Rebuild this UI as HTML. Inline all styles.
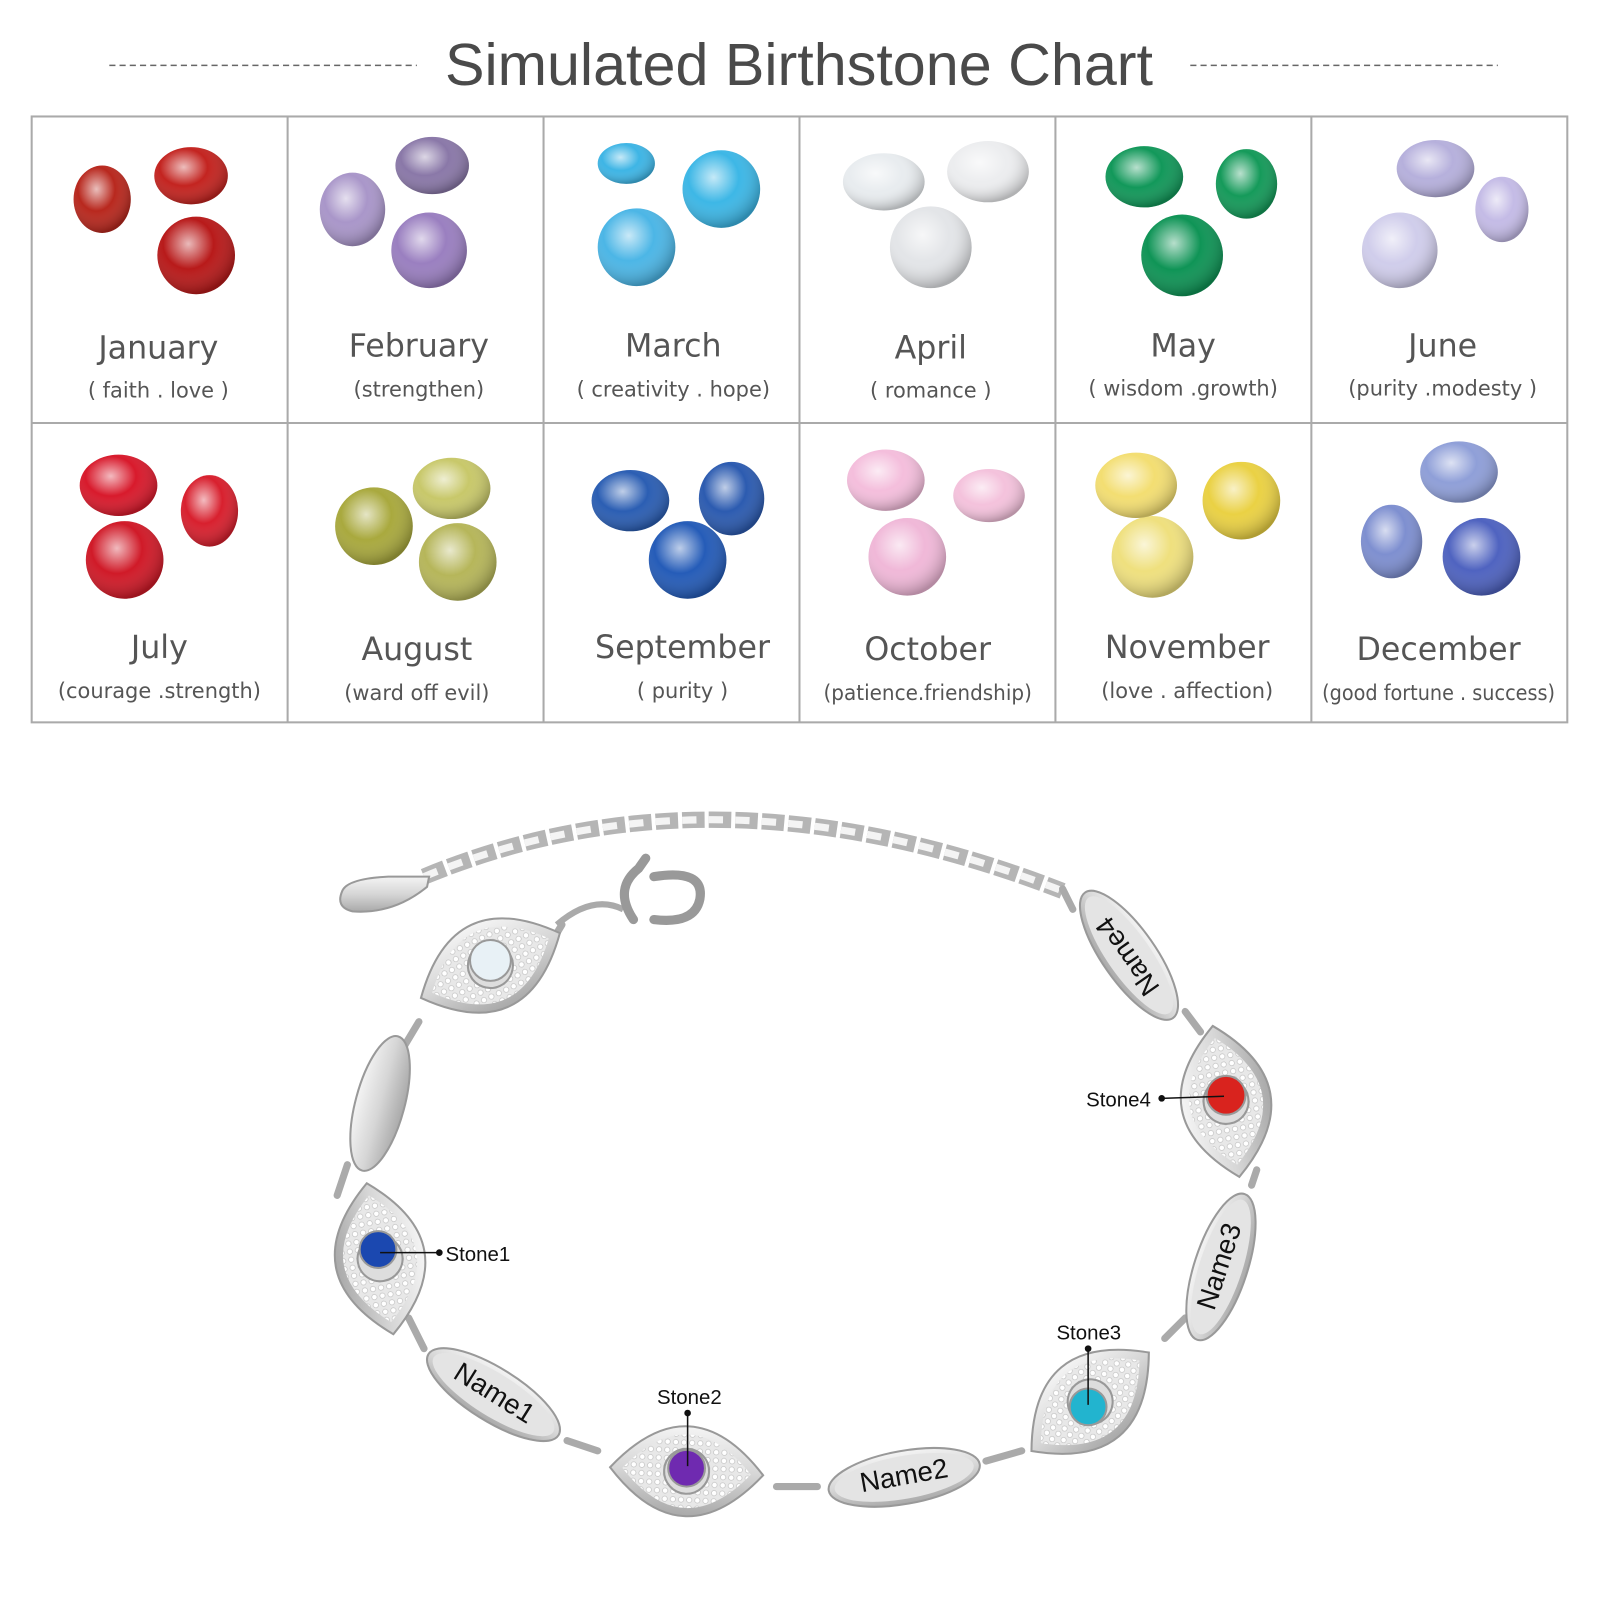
<!DOCTYPE html>
<html><head><meta charset="utf-8"><style>
html,body{margin:0;padding:0;background:#fff;}
svg{display:block;}
.m{font-family:"DejaVu Sans","Liberation Sans",sans-serif;font-size:31px;fill:#555;text-anchor:middle;}
.s{font-family:"DejaVu Sans","Liberation Sans",sans-serif;font-size:20.5px;fill:#555;text-anchor:middle;}
.n{font-family:"Liberation Sans",sans-serif;font-size:27px;fill:#111;text-anchor:middle;dominant-baseline:middle;}
.l{font-family:"Liberation Sans",sans-serif;font-size:20px;fill:#111;}
</style></head><body>
<svg width="1600" height="1600" viewBox="0 0 1566 1566" xmlns="http://www.w3.org/2000/svg">
<defs>
<radialGradient id="g" cx="40%" cy="35%" r="65%"><stop offset="0" stop-color="#fff" stop-opacity=".7"/><stop offset=".5" stop-color="#fff" stop-opacity="0"/><stop offset="1" stop-color="#000" stop-opacity=".25"/></radialGradient>
<linearGradient id="metal" x1="0" y1="0" x2="0" y2="1"><stop offset="0" stop-color="#f4f4f4"/><stop offset=".5" stop-color="#d6d6d6"/><stop offset="1" stop-color="#a9a9a9"/></linearGradient>
<pattern id="pave" width="8" height="8" patternUnits="userSpaceOnUse"><rect width="8" height="8" fill="#e8e8e8"/><circle cx="4" cy="4" r="2.6" fill="#fff" stroke="#bbb" stroke-width=".6"/></pattern>
<g id="eye"><path d="M-75,0 Q0,-88 75,0 Q0,88 -75,0Z" fill="url(#metal)" stroke="#999" stroke-width="2"/><path d="M-63,0 Q0,-72 63,0 Q0,72 -63,0Z" fill="url(#pave)"/><circle r="22" fill="#ddd" stroke="#999" stroke-width="2"/></g>
<g id="ov"><ellipse rx="75" ry="26" fill="url(#metal)" stroke="#999" stroke-width="2"/><ellipse rx="69" ry="21" fill="#e4e4e4"/></g>
</defs>
<line x1="107" y1="64" x2="408" y2="64" stroke="#666" stroke-width="1.5" stroke-dasharray="6,4"/>
<line x1="1165" y1="64" x2="1466" y2="64" stroke="#666" stroke-width="1.5" stroke-dasharray="6,4"/>
<text x="782" y="83" text-anchor="middle" font-family="Liberation Sans,sans-serif" font-size="58" fill="#4a4a4a">Simulated Birthstone Chart</text>
<g stroke="#aaa" stroke-width="2" fill="none">
<rect x="31" y="114" width="1503" height="593"/>
<line x1="31" y1="414" x2="1534" y2="414"/>
<line x1="281.5" y1="114" x2="281.5" y2="707"/><line x1="532" y1="114" x2="532" y2="707"/><line x1="782.5" y1="114" x2="782.5" y2="707"/><line x1="1033" y1="114" x2="1033" y2="707"/><line x1="1283.5" y1="114" x2="1283.5" y2="707"/>
</g>
<g id="gems">
<ellipse cx="100" cy="195" rx="28" ry="33" fill="#b8281e"/><ellipse cx="187" cy="172" rx="36" ry="28" fill="#c32420"/><circle cx="192" cy="250" r="38" fill="#b81a1a"/>
<ellipse cx="345" cy="205" rx="32" ry="36" fill="#a996c9"/><ellipse cx="423" cy="162" rx="36" ry="28" fill="#8a78a8"/><circle cx="420" cy="245" r="37" fill="#9a7fc0"/>
<ellipse cx="613" cy="160" rx="28" ry="20" fill="#3eb5e5"/><circle cx="706" cy="185" r="38" fill="#3db7e6"/><circle cx="623" cy="242" r="38" fill="#4cb6e6"/>
<ellipse cx="865" cy="178" rx="40" ry="28" fill="#e8ecef"/><ellipse cx="967" cy="168" rx="40" ry="30" fill="#ecedef"/><circle cx="911" cy="242" r="40" fill="#e3e5e8"/>
<ellipse cx="1120" cy="173" rx="38" ry="30" fill="#12985a"/><ellipse cx="1220" cy="180" rx="30" ry="34" fill="#159a5a"/><circle cx="1157" cy="250" r="40" fill="#0f9456"/>
<ellipse cx="1405" cy="165" rx="38" ry="28" fill="#b6b0dc"/><ellipse cx="1470" cy="205" rx="26" ry="32" fill="#c4bbe6"/><circle cx="1370" cy="245" r="37" fill="#d0cdeb"/>
<ellipse cx="116" cy="475" rx="38" ry="30" fill="#d81a2c"/><ellipse cx="205" cy="500" rx="28" ry="35" fill="#d8202e"/><circle cx="122" cy="548" r="38" fill="#d01a28"/>
<ellipse cx="442" cy="478" rx="38" ry="30" fill="#c8c86a"/><circle cx="366" cy="515" r="38" fill="#a9a93e"/><circle cx="448" cy="550" r="38" fill="#b6b65a"/>
<ellipse cx="617" cy="490" rx="38" ry="30" fill="#2b5eb3"/><ellipse cx="716" cy="488" rx="32" ry="36" fill="#2c5bb0"/><circle cx="673" cy="548" r="38" fill="#255cb8"/>
<ellipse cx="867" cy="470" rx="38" ry="30" fill="#f4bedc"/><ellipse cx="968" cy="485" rx="35" ry="26" fill="#f4c2dc"/><circle cx="888" cy="545" r="38" fill="#f0b8d8"/>
<ellipse cx="1112" cy="475" rx="40" ry="32" fill="#f3de72"/><circle cx="1215" cy="490" r="38" fill="#ead144"/><circle cx="1128" cy="545" r="40" fill="#efe07e"/>
<ellipse cx="1428" cy="462" rx="38" ry="30" fill="#8f9fd8"/><ellipse cx="1362" cy="530" rx="30" ry="36" fill="#7e8fd0"/><circle cx="1450" cy="545" r="38" fill="#4f63c0"/>
</g>
<g fill="url(#g)">
<ellipse cx="100" cy="195" rx="28" ry="33"/><ellipse cx="187" cy="172" rx="36" ry="28"/><circle cx="192" cy="250" r="38"/>
<ellipse cx="345" cy="205" rx="32" ry="36"/><ellipse cx="423" cy="162" rx="36" ry="28"/><circle cx="420" cy="245" r="37"/>
<ellipse cx="613" cy="160" rx="28" ry="20"/><circle cx="706" cy="185" r="38"/><circle cx="623" cy="242" r="38"/>
<ellipse cx="865" cy="178" rx="40" ry="28"/><ellipse cx="967" cy="168" rx="40" ry="30"/><circle cx="911" cy="242" r="40"/>
<ellipse cx="1120" cy="173" rx="38" ry="30"/><ellipse cx="1220" cy="180" rx="30" ry="34"/><circle cx="1157" cy="250" r="40"/>
<ellipse cx="1405" cy="165" rx="38" ry="28"/><ellipse cx="1470" cy="205" rx="26" ry="32"/><circle cx="1370" cy="245" r="37"/>
<ellipse cx="116" cy="475" rx="38" ry="30"/><ellipse cx="205" cy="500" rx="28" ry="35"/><circle cx="122" cy="548" r="38"/>
<ellipse cx="442" cy="478" rx="38" ry="30"/><circle cx="366" cy="515" r="38"/><circle cx="448" cy="550" r="38"/>
<ellipse cx="617" cy="490" rx="38" ry="30"/><ellipse cx="716" cy="488" rx="32" ry="36"/><circle cx="673" cy="548" r="38"/>
<ellipse cx="867" cy="470" rx="38" ry="30"/><ellipse cx="968" cy="485" rx="35" ry="26"/><circle cx="888" cy="545" r="38"/>
<ellipse cx="1112" cy="475" rx="40" ry="32"/><circle cx="1215" cy="490" r="38"/><circle cx="1128" cy="545" r="40"/>
<ellipse cx="1428" cy="462" rx="38" ry="30"/><ellipse cx="1362" cy="530" rx="30" ry="36"/><circle cx="1450" cy="545" r="38"/>
</g>
<text class="m" x="155" y="351">January</text><text class="s" x="155" y="389">( faith . love )</text>
<text class="m" x="410" y="349">February</text><text class="s" x="410" y="388">(strengthen)</text>
<text class="m" x="659" y="349">March</text><text class="s" x="659" y="388">( creativity . hope)</text>
<text class="m" x="911" y="351">April</text><text class="s" x="911" y="389">( romance )</text>
<text class="m" x="1158" y="349">May</text><text class="s" x="1158" y="387">( wisdom .growth)</text>
<text class="m" x="1412" y="349">June</text><text class="s" x="1412" y="387">(purity .modesty )</text>
<text class="m" x="156" y="644">July</text><text class="s" x="156" y="683">(courage .strength)</text>
<text class="m" x="408" y="646">August</text><text class="s" x="408" y="685">(ward off evil)</text>
<text class="m" x="668" y="644">September</text><text class="s" x="668" y="683">( purity )</text>
<text class="m" x="908" y="646">October</text><text class="s" x="908" y="685" textLength="204" lengthAdjust="spacingAndGlyphs">(patience.friendship)</text>
<text class="m" x="1162" y="644">November</text><text class="s" x="1162" y="683">(love . affection)</text>
<text class="m" x="1408" y="646">December</text><text class="s" x="1408" y="685" textLength="228" lengthAdjust="spacingAndGlyphs">(good fortune . success)</text>
<path d="M415,858 Q700,740 1040,872" fill="none" stroke="#b5b5b5" stroke-width="16" stroke-dasharray="22,4"/>
<path d="M415,858 Q700,740 1040,872" fill="none" stroke="#f4f4f4" stroke-width="7" stroke-dasharray="14,12"/>
<path d="M335,872 Q340,860 380,858 L420,858 L418,868 Q385,895 345,892 Q328,888 335,872Z" fill="url(#metal)" stroke="#999" stroke-width="2"/>
<path d="M545,905 Q580,875 610,890" fill="none" stroke="#aaa" stroke-width="6"/>
<path d="M620,900 Q600,870 625,850 L632,840 M640,858 Q690,850 685,880 Q680,905 640,900" fill="none" stroke="#999" stroke-width="9" stroke-linecap="round"/>
<path d="M535,930 L550,905 M410,1000 L395,1025 M340,1140 L330,1170 M400,1290 L415,1320 M555,1410 L585,1420 M760,1455 L800,1455 M965,1430 L1000,1420 M1140,1310 L1160,1290 M1225,1160 L1230,1145 M1160,990 L1175,1010 M1040,870 L1050,890" stroke="#aaa" stroke-width="7" fill="none" stroke-linecap="round"/>
<use href="#eye" transform="translate(480,945) rotate(-25)"/>
<circle cx="480" cy="940" r="20" fill="#e8f1f6" stroke="#999" stroke-width="2"/>
<g transform="translate(372,1080) rotate(-75)"><ellipse rx="68" ry="24" fill="url(#metal)" stroke="#999" stroke-width="2"/></g>
<use href="#eye" transform="translate(372,1232) rotate(80)"/>
<circle cx="370" cy="1223" r="18" fill="#1b48b0" stroke="#999" stroke-width="2"/>
<use href="#ov" transform="translate(483,1365) rotate(32)"/>
<text class="n" transform="translate(483,1365) rotate(32)">Name1</text>
<use href="#eye" transform="translate(672,1440) rotate(3)"/>
<circle cx="672" cy="1437" r="18" fill="#6f2ab0" stroke="#999" stroke-width="2"/>
<use href="#ov" transform="translate(885,1446) rotate(-10)"/>
<text class="n" transform="translate(885,1446) rotate(-10)">Name2</text>
<use href="#eye" transform="translate(1067,1372) rotate(-40)"/>
<circle cx="1065" cy="1377" r="18" fill="#22b4cf" stroke="#999" stroke-width="2"/>
<use href="#ov" transform="translate(1195,1240) rotate(-72)"/>
<text class="n" transform="translate(1195,1240) rotate(-72)">Name3</text>
<use href="#eye" transform="translate(1200,1078) rotate(-100)"/>
<circle cx="1200" cy="1072" r="19" fill="#d9231e" stroke="#999" stroke-width="2"/>
<use href="#ov" transform="translate(1105,935) rotate(55)"/>
<text class="n" transform="translate(1105,935) rotate(235)">Name4</text>
<g stroke="#111" stroke-width="1.5" fill="#111">
<line x1="372" y1="1226" x2="430" y2="1226"/><circle cx="430" cy="1226" r="2.5"/>
<line x1="673" y1="1383" x2="673" y2="1435"/><circle cx="673" cy="1383" r="2.5"/>
<line x1="1065" y1="1320" x2="1065" y2="1375"/><circle cx="1065" cy="1320" r="2.5"/>
<line x1="1137" y1="1075" x2="1198" y2="1073"/><circle cx="1137" cy="1075" r="2.5"/>
</g>
<text class="l" x="436" y="1234">Stone1</text>
<text class="l" x="643" y="1374">Stone2</text>
<text class="l" x="1034" y="1311">Stone3</text>
<text class="l" x="1063" y="1083">Stone4</text>
</svg>
</body></html>
